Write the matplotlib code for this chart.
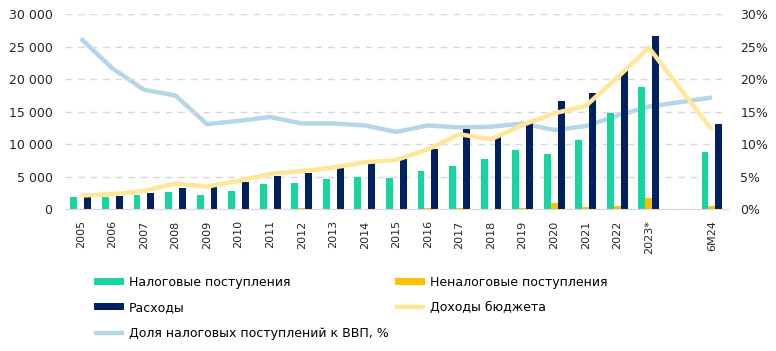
import numpy as np
import matplotlib.pyplot as plt
from matplotlib.ticker import FuncFormatter

plt.rcParams['font.family'] = ['DejaVu Sans']

# categories (empty slot between 2023* and 6M24)
labels = ['2005', '2006', '2007', '2008', '2009', '2010', '2011', '2012', '2013', '2014',
          '2015', '2016', '2017', '2018', '2019', '2020', '2021', '2022', '2023*', '', '6M24']

tax = [1900, 1900, 2200, 2670, 2200, 2820, 3900, 4050, 4670, 4980,
       4820, 5900, 6670, 7740, 9130, 8520, 10670, 14830, 18830, None, 8820]
nontax = [0, 0, 0, 0, 0, 0, 0, 200, 0, 0,
          0, 180, 180, 0, 150, 920, 360, 510, 1740, None, 510]
expenses = [1850, 2050, 2560, 3280, 3380, 4260, 5130, 5650, 6310, 7050,
            7720, 9280, 12310, 11180, 13390, 16670, 17900, 21340, 26680, None, 13130]
revenue = [2100, 2300, 2820, 3950, 3490, 4360, 5440, 5850, 6410, 7230,
           7590, 9230, 11540, 10770, 12980, 14770, 15900, 20260, 24880, None, 12210]
tax_gdp = [26.3, 21.7, 18.4, 17.5, 13.1, 13.6, 14.2, 13.2, 13.2, 12.9,
           11.9, 12.9, 12.6, 12.7, 13.2, 12.2, 12.8, 14.4, 15.8, None, 17.2]

c_tax = '#16D69F'
c_nontax = '#FFC000'
c_exp = '#002060'
c_rev = '#FFE699'
c_gdp = '#B4D6E7'

x = np.arange(len(labels))
idx = [i for i in range(len(labels)) if tax[i] is not None]
xi = x[idx]
w = 0.22

fig = plt.figure(figsize=(7.76, 3.51), dpi=100)
ax = fig.add_axes([0.0838, 0.404, 0.854, 0.555])
ax2 = ax.twinx()

b1 = ax.bar(xi - w, [tax[i] for i in idx], w, color=c_tax, label='Налоговые поступления', zorder=2)
b2 = ax.bar(xi, [nontax[i] for i in idx], w, color=c_nontax, label='Неналоговые поступления', zorder=2)
b3 = ax.bar(xi + w, [expenses[i] for i in idx], w, color=c_exp, label='Расходы', zorder=2)
l1, = ax.plot(xi, [revenue[i] for i in idx], color=c_rev, lw=3.2, label='Доходы бюджета', zorder=3,
              solid_capstyle='butt')
l2, = ax2.plot(xi, [tax_gdp[i] for i in idx], color=c_gdp, lw=3.2,
               label='Доля налоговых поступлений к ВВП, %', zorder=3, solid_capstyle='butt')

ax.set_zorder(ax2.get_zorder() + 1)
ax.patch.set_visible(False)

ax.set_xlim(-0.5, len(labels) - 0.5)
ax.set_ylim(0, 30000)
ax.set_yticks(range(0, 30001, 5000))
ax.yaxis.set_major_formatter(FuncFormatter(lambda v, p: f'{int(v):,}'.replace(',', ' ')))
ax2.set_ylim(0, 30)
ax2.set_yticks(range(0, 31, 5))
ax2.yaxis.set_major_formatter(FuncFormatter(lambda v, p: f'{int(v)}%'))

ax.grid(axis='y', color='#D9D9D9', linestyle=(0, (5, 4)), lw=1, zorder=0)
ax.set_axisbelow(True)

ax.set_xticks(x)
ax.set_xticklabels(labels, rotation=90, fontsize=8, color='#262626')
ax.tick_params(axis='x', length=0, pad=8)
ax.tick_params(axis='y', length=0, pad=9, labelsize=9, labelcolor='#262626')
ax2.tick_params(axis='y', length=0, pad=9, labelsize=9, labelcolor='#262626')

for a in (ax, ax2):
    for s in ('top', 'left', 'right'):
        a.spines[s].set_visible(False)
    a.spines['bottom'].set_color('#D9D9D9')
ax2.spines['bottom'].set_visible(False)

handles = [b1, b3, l2, b2, l1]
fig.legend(handles, [h.get_label() for h in handles], ncol=2, loc='upper left',
           bbox_to_anchor=(0.1205, 0.215), frameon=False, fontsize=9,
           handlelength=2.4, handleheight=0.5, handletextpad=0.4,
           columnspacing=0.5, labelspacing=1.0, borderaxespad=0, borderpad=0)

fig.savefig('out.png', dpi=100)
